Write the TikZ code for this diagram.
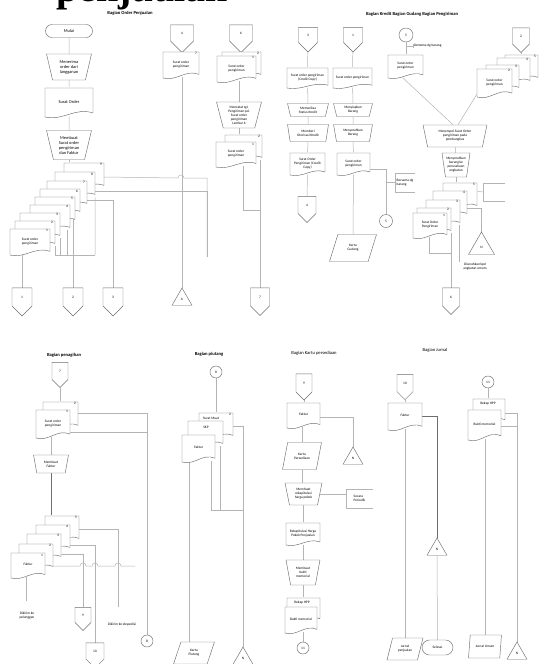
\documentclass[tikz,border=0pt]{standalone}
\usepackage{fontspec}
\setmainfont{Carlito}
\newfontfamily\bigserif{Liberation Serif}
\usetikzlibrary{shapes.geometric, shapes.misc, shapes.symbols, calc}

\pgfdeclarelayer{back}
\pgfdeclarelayer{bg}
\pgfsetlayers{back,bg,main}

\definecolor{lineGrey}{HTML}{B4B4B4}
\definecolor{shapeGrey}{HTML}{6E6E6E}

\tikzset{
  ln/.style={draw=lineGrey, line width=0.5pt},
  lndark/.style={draw=shapeGrey, line width=0.7pt},
  shp/.style={draw=shapeGrey, line width=0.45pt, fill=white},
  txt/.style={font=\fontsize{3.5}{4}\selectfont, align=center, inner sep=0pt},
  txtbig/.style={font=\fontsize{4.4}{5}\selectfont, align=center, inner sep=0pt},
  numtxt/.style={font=\fontsize{3.5}{4}\selectfont, inner sep=0pt},
  ttl/.style={font=\fontsize{4.6}{5}\selectfont\bfseries, inner sep=0pt},
  ttlplain/.style={font=\fontsize{4.6}{5}\selectfont, inner sep=0pt},
  terminal/.style={shp, txt, rounded rectangle},
  manual/.style={shp, txt, trapezium, shape border rotate=180, trapezium stretches=true, trapezium angle=76},
  datain/.style={shp, txt, trapezium, trapezium left angle=66, trapezium right angle=114, trapezium stretches=true},
  offpage/.style={shp, txt, signal, signal to=south, signal from=nowhere},
  arsip/.style={shp, txt, regular polygon, regular polygon sides=3, minimum size=23pt},
  onpage/.style={shp, txt, circle, minimum size=13pt},
}

% document symbol: [number]{name}{left}{top}{width}{height}{text}
\newcommand{\docu}[7][]{%
  \draw[shp] (#3,#4) -- (#3+#5,#4) -- (#3+#5,#4+0.86*#6)
    .. controls (#3+0.62*#5,#4+0.66*#6) and (#3+0.38*#5,#4+1.14*#6) .. (#3,#4+#6) -- cycle;
  \node[txt, minimum width=#5pt, minimum height=#6pt] (#2) at (#3+0.5*#5,#4+0.47*#6) {#7};
  \node[numtxt, anchor=north east] (#2n) at ([xshift=-2pt,yshift=-1.5pt]#2.north east) {#1};
}

\begin{document}
\begin{tikzpicture}[x=1pt, y=-1pt]
    \begin{pgfonlayer}{back}
        \fill[white] (0,0) rectangle (539,664);
    \end{pgfonlayer}
    \useasboundingbox (0,0) rectangle (539,664);

    % Titles
    \node[font=\bigserif\fontsize{40}{40}\selectfont\bfseries, anchor=base west, inner sep=0pt] (judul) at (56,1) {penjualan};
    \node[ttl] (tOrder) at (130,13) {Bagian Order Penjualan};
    \node[ttl] (tKredit) at (412,14) {Bagian Kredit Bagian Gudang Bagian Pengiriman};
    \node[ttl] (tTagih) at (64,355) {Bagian penagihan};
    \node[ttl] (tPiutang) at (209,354) {Bagian piutang};
    \node[ttlplain] (tSedia) at (314,353) {Bagian Kartu persediaan};
    \node[ttlplain] (tJurnal) at (435,350) {Bagian Jurnal};

    % ---- Bagian Order Penjualan
    \node[terminal, txtbig, minimum width=47pt, minimum height=13pt] (mulai) at (69,31) {Mulai};
    \node[manual, txtbig, minimum width=45pt, minimum height=26pt] (terima) at (69,67) {Menerima\\order dari\\langganan};
    \docu{so}{45}{88}{48}{29}{\fontsize{4.4}{5}\selectfont Surat Order}
    \node[manual, txtbig, minimum width=45pt, minimum height=29pt] (buat) at (69,145) {Membuat\\Surat order\\pengiriman\\dan Faktur};
    \foreach \n/\x/\y in {9/64/163, 8/55/172, 7/47/181, 6/40/189, 5/35/197, 4/30/205, 3/20/213, 2/15/221}
        \docu[\n]{a\n}{\x}{\y}{40}{26}{};
    \docu[1]{a1}{10}{229}{40}{26}{Surat order\\pengiriman}
    \node[offpage, minimum width=20pt, minimum height=19pt] (c1) at (22,297) {1};
    \node[offpage, minimum width=20pt, minimum height=19pt] (c2) at (73,297) {2};
    \node[offpage, minimum width=20pt, minimum height=19pt] (c3) at (113,297) {3};

    % ---- second column
    \node[offpage, minimum width=23pt, minimum height=17pt] (c4) at (182,33) {4};
    \docu[7]{d7}{163}{52}{36}{26}{Surat order\\pengiriman}
    \node[arsip] (arA) at (182,299.5) {A};
    \node[offpage, minimum width=23pt, minimum height=17pt] (c6) at (241,33) {6};
    \docu[2]{b2}{222}{52}{39}{26}{}
    \docu[1]{b1}{217}{56}{39}{26}{Surat order\\pengiriman}
    \node[manual, minimum width=45pt, minimum height=26pt] (catat) at (239,115) {Mencatat tgl.\\Pengiriman pd.\\Surat order\\pengiriman\\Lembar 6};
    \docu[2]{b4}{225}{135}{37}{26}{}
    \docu[1]{b3}{216}{142}{40}{25}{Surat order\\pengiriman}
    \node[offpage, minimum width=19pt, minimum height=19pt] (c7) at (260,297) {7};

    % ---- Bagian Kredit / Gudang
    \node[offpage, minimum width=19pt, minimum height=16pt] (c3b) at (308,35) {3};
    \node[offpage, minimum width=19pt, minimum height=16pt] (c1b) at (353,35) {1};
    \docu{k1}{287}{68}{41}{20}{Surat order pengiriman\\(Credit Copy)}
    \docu{g1}{333}{68}{39}{20}{Surat order pengiriman}
    \node[manual, minimum width=41pt, minimum height=13pt] (periksa) at (308,110) {Memeriksa\\Status Kredit};
    \node[manual, minimum width=39pt, minimum height=13pt] (siap) at (353,110) {Menyiapkan\\Barang};
    \node[manual, minimum width=41pt, minimum height=17pt] (otor) at (308,133) {Memberi\\Otorisasi Kredit};
    \node[manual, minimum width=39pt, minimum height=17pt] (serah) at (353,133) {Menyerahkan\\Barang};
    \docu{k2}{290}{153}{35}{22}{Surat Order\\Pengiriman (Credit\\Copy)}
    \docu{g2}{337}{153}{33}{22}{Surat order\\pengiriman}
    \node[offpage, minimum width=18pt, minimum height=18pt] (c4b) at (307,205) {4};
    \node[datain, minimum width=47pt, minimum height=27pt] (kg) at (353,248) {Kartu\\Gudang};
    \node[onpage] (cir5a) at (386,221) {5};
    \node[txt, align=left, minimum width=20pt, minimum height=19pt] (bersama) at (405,182.5) {Bersama dg\\barang};

    % ---- Bagian Pengiriman
    \node[onpage, minimum size=14pt] (cir5b) at (406,35) {5};
    \node[txt, anchor=west] (bersama2) at (414,46) {Bersama dg barang};
    \docu{p1}{388}{55}{35}{23}{Surat order\\pengiriman}
    \node[offpage, minimum width=17pt, minimum height=17pt] (c2b) at (521,36) {2};
    \foreach \n/\x/\y in {5/505/55, 4/497/58, 3/486/65}
        \docu[\n]{p\n}{\x}{\y}{33}{26}{};
    \docu[2]{p2}{477}{69}{35}{28}{Surat order\\pengiriman}
    \node[manual, minimum width=64pt, minimum height=22pt] (tempel) at (455,136) {Menempel Surat Order\\pengiriman pada\\pembungkus};
    \node[manual, trapezium angle=78, minimum width=28pt, minimum height=24pt] (angkut) at (456,165) {Menyerahkan\\barang ke\\perusahaan\\angkutan};
    \foreach \n/\x/\y in {5/443/183, 4/433/191, 3/426/200, 2/417/208}
        \docu[\n]{q\n}{\x}{\y}{34}{26}{};
    \docu[1]{q1}{413}{213}{34}{25}{Surat Order\\Pengiriman}
    \node[txt, minimum width=22pt, minimum height=18pt] (kotak) at (494,192) {};
    \node[arsip, minimum size=30pt] (nG) at (481.5,247) {N};
    \node[offpage, minimum width=17pt, minimum height=19pt] (c6b) at (451,297) {6};
    \node[txt] (diserah) at (475,267) {Diserahkan kpd\\angkutan umum};

    % ---- Bagian penagihan
    \node[offpage, minimum width=16pt, minimum height=18pt] (c7b) at (60,371) {7};
    \docu[2]{h2}{43}{402}{35}{27}{}
    \docu[1]{h1}{36}{410}{34}{28}{Surat order\\pengiriman}
    \node[onpage, minimum size=12pt] (cir8a) at (147,641) {8};
    \node[manual, minimum width=35pt, minimum height=18pt] (fak) at (51,464) {Membuat\\Faktur};
    \foreach \n/\x/\y in {5/45/516, 4/36/525, 3/27/534, 2/19/544}
        \docu[\n]{f\n}{\x}{\y}{34}{26}{};
    \docu[1]{f1}{11}{553}{34}{25}{Faktur}
    \node[txt] (plg) at (27,616) {Dikirim ke\\pelanggan};
    \node[txt] (eks) at (122,625) {Dikirim ke ekspedisi};
    \node[offpage, minimum width=16pt, minimum height=16pt] (c9) at (83,615) {9};
    \node[offpage, minimum width=18pt, minimum height=18pt] (c10) at (95,651) {10};

    % ---- Bagian piutang
    \node[onpage, minimum size=12pt] (cir8b) at (216,372) {8};
    \docu[2]{u3}{199}{413}{34}{26}{}
    \node[txt] (u3t) at (211,418.5) {Surat Muat};
    \docu{u2}{188}{421}{35}{26}{}
    \node[txt] (u2t) at (206,427.5) {SKP};
    \docu{u1}{182}{435}{33}{27}{Faktur}
    \node[datain, minimum width=41pt, minimum height=22pt] (kp) at (194,653) {Kartu\\Piutang};
    \node[arsip] (nP) at (243,658.5) {N};

    % ---- Bagian Kartu persediaan
    \node[offpage, minimum width=16pt, minimum height=19pt] (c9b) at (304,383) {9};
    \docu{fk}{287}{403}{33}{25}{Faktur}
    \node[arsip] (nK) at (353,458.5) {N};
    \node[datain, minimum width=39pt, minimum height=27pt] (kps) at (302,456) {Kartu\\Persediaan};
    \node[manual, minimum width=37pt, minimum height=22pt] (rekap) at (303.5,494) {Membuat\\rekapitulasi\\harga pokok};
    \node[txt, align=left, minimum width=27pt, minimum height=19pt] (periodik) at (359.5,498.5) {Secara\\Periodik};
    \docu{rhpp}{286}{523}{34}{22}{Rekapitulasi Harga\\Pokok Penjualan}
    \node[manual, minimum width=34pt, minimum height=25pt] (memo) at (303,572.5) {Membuat\\bukti\\memorial};
    \docu{m2}{287}{598}{33}{24}{}
    \node[txt] (m2t) at (302,602.5) {Rekap HPP};
    \docu{m1}{285}{607}{32}{26}{Bukti memorial}
    \node[onpage, minimum size=12pt] (cir11a) at (303,648) {11};

    % ---- Bagian Jurnal
    \node[offpage, minimum width=16pt, minimum height=19pt] (c10b) at (405,383) {10};
    \docu{fj}{388}{403}{34}{27}{Faktur}
    \node[arsip] (nJ) at (437,549.5) {N};
    \node[terminal, minimum width=31pt, minimum height=15pt] (selesai) at (437.5,647.5) {Selesai};
    \node[datain, minimum width=36pt, minimum height=22pt] (jp) at (405,649) {Jurnal\\penjualan};
    \node[onpage, minimum size=12pt] (cir11b) at (488,382) {11};
    \docu{w2}{473}{399}{32}{24}{}
    \node[txt] (w2t) at (488,403.5) {Rekap HPP};
    \docu{w1}{468}{410}{33}{30}{Bukti memorial}
    \node[datain, minimum width=33pt, minimum height=23pt] (ju) at (485,646.5) {Jurnal Umum};
    \node[arsip] (nU) at (517,653.5) {N};

    % ---- annotation brackets
    \draw[ln] (bersama.north east) -- (bersama.north west) -- (bersama.south west) -- (bersama.south east);
    \draw[ln] ([xshift=8pt]bersama2.north west) -- ([xshift=-1pt]bersama2.north west) -- ([xshift=-1pt]bersama2.south west);
    \draw[ln] (kotak.north east) -- (kotak.north west) -- (kotak.south west) -- (kotak.south east);
    \draw[ln] (periodik.north east) -- (periodik.north west) -- (periodik.south west) -- (periodik.south east);

    % ---- connectors
    \begin{pgfonlayer}{bg}
        % order penjualan
        \draw[ln] (mulai) -- (terima);
        \draw[ln] (terima) -- (so);
        \draw[ln] (so) -- (buat);
        \draw[ln] (buat.south) -- (buat.south |- a9.north);
        \draw[ln] (c1.north) -- (c1.north |- a1.south);
        \coordinate (jA) at (207,178);
        \coordinate (jAend) at (207,257);
        \draw[ln] ([yshift=-15pt]a9.north east) -- ($(jA -| d7.south)+(-3,0)$)
            arc[start angle=180, end angle=0, radius=3pt] -- (jA) -- (jAend);
        \draw[ln] ([yshift=-20pt]a8.north east) -| (jAend);
        \draw[ln] ([yshift=-20pt]a7.north east) -| (c3.north);
        \draw[ln] (c2.north) -- (c2.north |- a5.north);
        \coordinate (jB) at (95,255);
        \draw[ln] (a2.south east) |- (jB);
        \draw[ln] (a3.south east) -- (a3.south east |- jB);
        \draw[ln] ([xshift=-3pt]a4.south east) -- ([xshift=-3pt]a4.south east |- jB);
        \draw[ln] (a8.south east) -- (jB);

        % second column
        \draw[ln] (c4.south) -- (c4.south |- d7.north);
        \draw[ln] (arA.north) -- (arA.north |- d7.south);
        \draw[ln] (c6.south) -- (c6.south |- b2.north);
        \draw[ln] (catat.north) -- (catat.north |- b1.south);
        \draw[ln] (catat.south) -- (catat.south |- b4.north);
        \coordinate (jC) at (260,210);
        \draw[ln] ([xshift=7pt]b3.south) |- (jC);
        \draw[ln] (c7.north |- b4.south) -- (c7.north);

        % kredit and gudang
        \draw[ln] (c3b) -- (k1);
        \draw[ln] (k1) -- (periksa);
        \draw[ln] (periksa) -- (otor);
        \draw[ln] (otor) -- (k2);
        \draw[ln] (k2.south) -- (c4b.north);
        \draw[ln] (c1b) -- (g1);
        \draw[ln] (g1) -- (siap);
        \draw[ln] (siap) -- (serah);
        \draw[ln] (serah) -- (g2);
        \draw[ln] (g2.south) -- (kg.north);
        \draw[ln] ([yshift=-6pt]g2.east) -| (cir5a.north);
        \draw[ln] (cir5a.north |- bersama.west) -- (bersama.west);

        % pengiriman
        \draw[ln] (cir5b.south) -- (cir5b.south |- p1.north);
        \draw[ln] (cir5b.south |- bersama2.west) -- ([xshift=-1pt]bersama2.west);
        \draw[ln] (c2b.south) -- (c2b.south |- p5.north);
        \draw[ln] ([xshift=-3pt]p1.south) -- ([xshift=-2pt]tempel.north);
        \draw[ln] ([yshift=2pt]p2.south west) -- ([xshift=3pt]tempel.north);
        \draw[ln] (tempel) -- (angkut);
        \draw[ln] (angkut.south) -- (angkut.south |- q5.north);
        \draw[ln] ([yshift=-9pt]q5.north east) -- (kotak.west);
        \draw[ln] ([yshift=-18pt]q4.north east) -| (nG.north);
        \draw[ln] (c6b.north |- q2.south) -- (c6b.north);
        \coordinate (jD) at (451,253);
        \draw[ln] ([xshift=-1pt]q1.south) |- (jD);
        \coordinate (kirimEnd) at (459,262);
        \draw[ln] (kirimEnd |- q3.south) -- (kirimEnd);

        % penagihan
        \draw[ln] (c7b.south) -- (c7b.south |- h2.north);
        \draw[ln] ([yshift=-12pt]h2.north east) -| (cir8a.north);
        \draw[ln] ([yshift=-23pt]h1.north east) -| (cir8a.north);
        \draw[ln] (fak.north) -- (fak.north |- h1.south);
        \draw[lndark] (fak.south) -- (fak.south |- f5.north);
        \coordinate (kirimP) at (26,601);
        \draw[ln] (kirimP |- f1.south) -- (kirimP);
        \coordinate (eksEnd) at (118,607);
        \draw[ln] ([yshift=-14pt]f5.north east) -| (eksEnd);
        \draw[ln] ([yshift=-21pt]f4.north east) -| (c10.north);
        \draw[ln] ([yshift=-21pt]f3.north east) -| (c9.north);
        \coordinate (hopY) at (0,566);
        \coordinate (hopEnd) at (135,566);
        \draw[ln] (f2.east |- hopY) -- ($(c9.north |- hopY)+(-3,0)$)
            arc[start angle=180, end angle=0, radius=3pt] -- ($(c10.north |- hopY)+(-3,0)$)
            arc[start angle=180, end angle=0, radius=3pt] -- ($(eksEnd |- hopY)+(-3,0)$)
            arc[start angle=180, end angle=0, radius=3pt] -- (hopEnd);

        % piutang
        \draw[ln] (cir8b.south) -- (cir8b.south |- u3.north);
        \draw[ln] ([yshift=-14pt]u3.north east) -| (nP.north);
        \coordinate (jP) at (243,510);
        \draw[ln] ([xshift=-4pt]u1.south east) |- (jP);
        \draw[ln] ([xshift=-3pt]u2.south east) |- (jP);
        \draw[ln] ([xshift=-9.5pt]u1.south) -- ([xshift=-9.5pt]u1.south |- kp.north);

        % kartu persediaan
        \draw[ln] (c9b.south) -- (c9b.south |- fk.north);
        \draw[ln] ([yshift=-15pt]fk.north east) -| (nK.north);
        \draw[ln] (kps.north |- fk.south) -- (kps.north);
        \draw[ln] (kps.south) -- (kps.south |- rekap.north);
        \draw[ln] (rekap.east) -- (periodik.west |- rekap.east);
        \draw[ln] (rekap.south) -- (rekap.south |- rhpp.north);
        \draw[ln] (memo.north |- rhpp.south) -- (memo.north);
        \draw[ln] (memo.south) -- (memo.south |- m2.north);
        \draw[ln] (cir11a.north |- m1.south) -- (cir11a.north);

        % jurnal
        \draw[ln] (c10b.south) -- (c10b.south |- fj.north);
        \draw[lndark] ([yshift=-14pt]fj.north east) -| (nJ.north);
        \draw[ln] (nJ.south) -- (selesai.north);
        \draw[ln] (jp.north |- fj.south) -- (jp.north);
        \draw[ln] (cir11b.south) -- (cir11b.south |- w2.north);
        \draw[ln] ([yshift=-15pt]w2.north east) -| (nU.north);
        \draw[ln] ([yshift=-17pt]w1.north east) -| (nU.north);
        \draw[ln] (ju.north |- w1.south) -- (ju.north);
    \end{pgfonlayer}
\end{tikzpicture}
\end{document}
